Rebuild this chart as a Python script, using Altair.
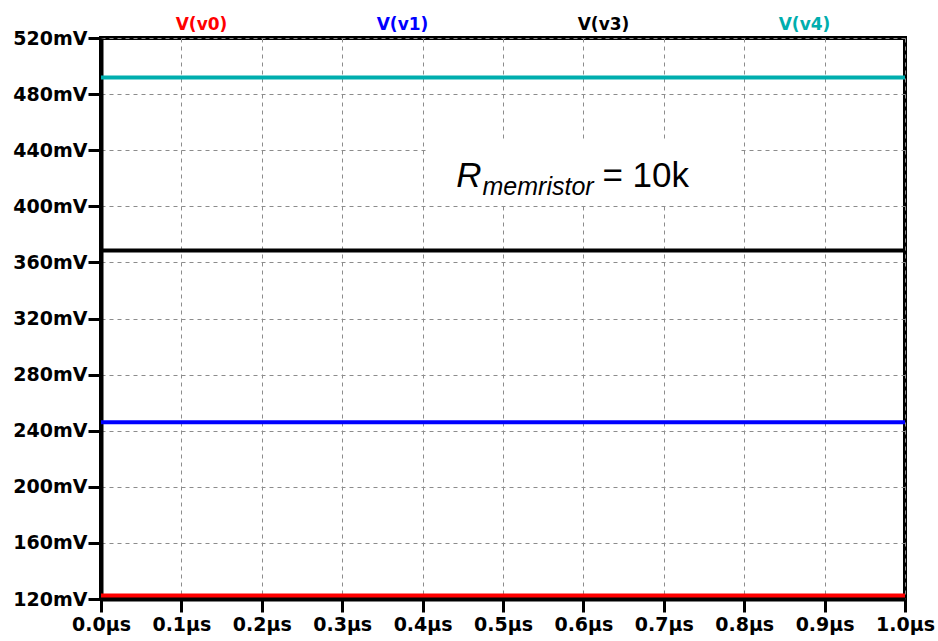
import altair as alt
import pandas as pd

# Data (time in µs, voltage in mV)
series_names = ["V(v0)", "V(v1)", "V(v3)", "V(v4)"]
series_colors = ["#FF0000", "#0000FF", "#000000", "#00AEAE"]
series_levels = [122.5, 246.0, 368.5, 491.8]
time_points = [0.0, 1.0]
legend_pos = [0.125, 0.375, 0.625, 0.875]

x_ticks = [round(i * 0.1, 1) for i in range(11)]
y_ticks = list(range(120, 521, 40))

rows = []
for n, v in zip(series_names, series_levels):
    for t in time_points:
        rows.append({"series": n, "t": t, "v": v})
df = pd.DataFrame(rows)

leg = pd.DataFrame({"series": series_names, "pos": legend_pos})

xs = alt.Scale(domain=[0, 1], nice=False, zero=False)
ys = alt.Scale(domain=[120, 520], nice=False, zero=False)
cs = alt.Scale(domain=series_names, range=series_colors)

base_x = alt.X("t:Q", scale=xs, axis=alt.Axis(
    values=x_ticks, labelExpr="format(datum.value, '.1f') + 'µs'",
    title=None, grid=True, labelOverlap=False, labelFlush=False))
base_y = alt.Y("v:Q", scale=ys, axis=alt.Axis(
    values=y_ticks, labelExpr="datum.value + 'mV'", title=None, grid=True,
    labelOverlap=False, labelFlush=False))

lines = alt.Chart(df).mark_line(strokeWidth=4).encode(
    x=base_x, y=base_y,
    color=alt.Color("series:N", scale=cs, legend=None),
    detail="series:N",
)

legend_text = alt.Chart(leg).mark_text(
    font="DejaVu Sans", fontWeight="bold", fontSize=17, baseline="alphabetic",
    align="center"
).encode(
    x=alt.X("pos:Q", scale=xs),
    y=alt.value(-8),
    text="series:N",
    color=alt.Color("series:N", scale=cs, legend=None),
)

# annotation box and text
box_df = pd.DataFrame({"x1": [0.405], "x2": [0.795], "y1": [402], "y2": [446]})
box = alt.Chart(box_df).mark_rect(color="white").encode(
    x=alt.X("x1:Q", scale=xs), x2="x2:Q",
    y=alt.Y("y1:Q", scale=ys), y2="y2:Q",
)

ann_df = pd.DataFrame({
    "txt": ["R", "memristor", "= 10k"],
    "x": [0.442, 0.4745, 0.6237],
    "y": [413.8, 408.1, 413.8],
    "size": [35, 25, 35],
    "style": ["italic", "italic", "normal"],
})
ann_parts = []
for i in range(3):
    ann_parts.append(
        alt.Chart(ann_df.iloc[[i]]).mark_text(
            font="Liberation Sans", fontSize=float(ann_df["size"][i]),
            fontStyle=ann_df["style"][i], align="left", baseline="alphabetic",
            color="black",
        ).encode(
            x=alt.X("x:Q", scale=xs), y=alt.Y("y:Q", scale=ys), text="txt:N"
        )
    )

chart = alt.layer(lines, box, *ann_parts, legend_text).properties(
    width=804, height=561,
    autosize=alt.AutoSizeParams(type="none"),
    padding={"left": 101, "top": 38, "right": 33, "bottom": 42},
    background="white",
).configure_view(
    stroke="black", strokeWidth=4
).configure_axis(
    domainColor="black", domainWidth=4,
    tickColor="black", tickWidth=3, tickSize=13,
    labelFont="DejaVu Sans", labelFontWeight="bold", labelFontSize=19,
    labelColor="black",
    gridColor="#8c8c8c", gridDash=[4, 4], gridWidth=1, gridOpacity=1,
).configure_axisY(
    labelPadding=1
).configure_axisX(
    labelPadding=3
)

chart.save("out.html", embed_options={"renderer": "svg", "actions": False})
